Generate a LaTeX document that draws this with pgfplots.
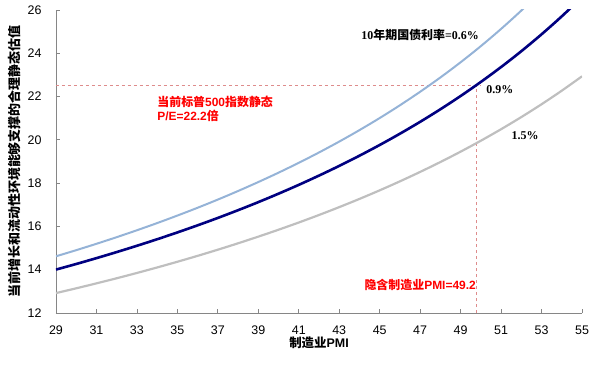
\documentclass[border=0pt]{standalone}
\usepackage{fontspec}
\setmainfont{Liberation Sans}
\newfontfamily\cjk{Noto Sans CJK SC}
\newfontfamily\tnr{Liberation Serif}
\usepackage{pgfplots}
\pgfplotsset{compat=1.18}
\definecolor{lblue}{RGB}{149,179,215}
\definecolor{navy}{RGB}{0,0,128}
\definecolor{lgray}{RGB}{191,191,191}
\definecolor{pinkd}{RGB}{222,140,140}
\definecolor{axgray}{RGB}{134,134,134}
\begin{document}
\begin{tikzpicture}
\useasboundingbox (-56bp,-58bp) rectangle (545bp,313bp);
\begin{axis}[
  at={(0,0)}, anchor=south west,
  scale only axis, width=526bp, height=303bp,
  xmin=29, xmax=55, ymin=12, ymax=26,
  xtick={29,31,...,55}, ytick={12,14,...,26},
  axis lines*=left,
  axis line style={axgray, line width=0.8bp},
  tick style={axgray, line width=0.8bp},
  tick align=inside, major tick length=4bp,
  /pgf/number format/assume math mode=true,
  tick label style={font=\fontsize{12.5}{14}\selectfont},
  yticklabel style={xshift=-11bp},
  xticklabel style={yshift=-9bp},
  xlabel={{\cjk\bfseries 制造业}\textbf{PMI}},
  ylabel={\cjk\bfseries 当前增长和流动性环境能够支撑的合理静态估值},
  xlabel style={at={(axis description cs:0.5,-0.099)}, anchor=center, font=\fontsize{12.5}{14}\selectfont},
  ylabel style={at={(axis description cs:-0.078,0.5)}, anchor=center, rotate=0, font=\fontsize{13}{15}\selectfont},
  clip=true,
]
% dashed reference lines
\addplot[pinkd, dashed, line width=0.8bp] coordinates {(29,22.5) (50.0,22.5)};
\addplot[pinkd, dashed, line width=0.8bp] coordinates {(49.8,12) (49.8,22.5)};
% 10y = 0.6%
\addplot[lblue, line width=2bp, smooth] coordinates {
(29,14.620) (30,14.903) (31,15.198) (32,15.504) (33,15.823) (34,16.155)
(35,16.502) (36,16.863) (37,17.241) (38,17.637) (39,18.051) (40,18.484)
(41,18.939) (42,19.417) (43,19.920) (44,20.450) (45,21.008) (46,21.598)
(47,22.222) (48,22.883) (49,23.585) (50,24.331) (51,25.126) (52,25.974)
(53,26.882) (54,27.855) (55,28.902)};
% 10y = 0.9%
\addplot[navy, line width=2.6bp, smooth] coordinates {
(29,14.006) (30,14.265) (31,14.535) (32,14.815) (33,15.106) (34,15.408)
(35,15.723) (36,16.051) (37,16.393) (38,16.750) (39,17.123) (40,17.513)
(41,17.921) (42,18.349) (43,18.797) (44,19.268) (45,19.763) (46,20.284)
(47,20.833) (48,21.413) (49,22.026) (50,22.676) (51,23.364) (52,24.096)
(53,24.876) (54,25.707) (55,26.596)};
% 10y = 1.5%
\addplot[lgray, line width=2.2bp, smooth] coordinates {
(29,12.920) (30,13.141) (31,13.369) (32,13.605) (33,13.850) (34,14.104)
(35,14.368) (36,14.641) (37,14.925) (38,15.221) (39,15.528) (40,15.848)
(41,16.181) (42,16.529) (43,16.892) (44,17.271) (45,17.668) (46,18.083)
(47,18.519) (48,18.975) (49,19.455) (50,19.960) (51,20.492) (52,21.053)
(53,21.645) (54,22.272) (55,22.936)};
% annotations
\node[anchor=center, font=\fontsize{12}{14}\selectfont] at (axis cs:47.0,24.84)
  {\tnr\bfseries 10{\cjk\bfseries 年期国债利率}=0.6\%};
\node[anchor=west, font=\fontsize{12}{14}\selectfont] at (axis cs:50.1,22.3)
  {\tnr\bfseries 0.9\%};
\node[anchor=west, font=\fontsize{12}{14}\selectfont] at (axis cs:51.35,20.2)
  {\tnr\bfseries 1.5\%};
\node[anchor=west, align=left, text=red, font=\fontsize{12}{14.5}\selectfont, inner sep=0pt] at (axis cs:34.0,21.42)
  {{\cjk\bfseries 当前标普}\textbf{500}{\cjk\bfseries 指数静态}\\ \textbf{P/E=22.2}{\cjk\bfseries 倍}};
\node[anchor=center, text=red, font=\fontsize{12}{14}\selectfont] at (axis cs:47.0,13.3)
  {{\cjk\bfseries 隐含制造业}\textbf{PMI=49.2}};
\end{axis}
\end{tikzpicture}
\end{document}
